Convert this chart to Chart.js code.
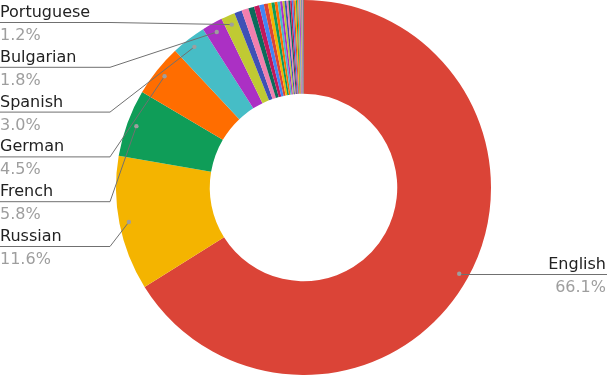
<!DOCTYPE html>
<html>
<head>
<meta charset="utf-8">
<script src="https://cdn.jsdelivr.net/npm/chart.js@4/dist/chart.umd.min.js"></script>
<style>
  html, body { margin: 0; padding: 0; background: #fff; }
  #wrap { width: 607px; height: 375px; }
</style>
</head>
<body>
<div id="wrap"><canvas id="langChart" width="607" height="375"></canvas></div>
<script>
// language share (percent)
var languages = ['English', 'Russian', 'French', 'German', 'Spanish', 'Bulgarian', 'Portuguese',
  'Italian', 'Polish', 'Japanese', 'Chinese', 'Dutch', 'Czech', 'Ukrainian', 'Turkish', 'Swedish',
  'Korean', 'Persian', 'Hungarian', 'Greek', 'Romanian', 'Finnish', 'Danish', 'Hebrew', 'Arabic',
  'Norwegian', 'Serbian', 'Slovak', 'Indonesian', 'Vietnamese', 'Catalan', 'Croatian', 'Lithuanian', 'Hindi'];
var shares = [66.1, 11.6, 5.8, 4.5, 3.0, 1.8, 1.2,
  0.65, 0.6, 0.5, 0.45, 0.4, 0.35, 0.3, 0.28, 0.25,
  0.22, 0.2, 0.18, 0.17, 0.16, 0.15, 0.14, 0.13, 0.12,
  0.11, 0.1, 0.1, 0.09, 0.09, 0.08, 0.08, 0.05, 0.05];
// slices that get a label on the left, top to bottom
var leftLabels = ['Portuguese', 'Bulgarian', 'Spanish', 'German', 'French', 'Russian'];
var rightLabels = ['English'];

var palette = ['#DB4437', '#F4B400', '#0F9D58', '#FF6D00', '#46BDC6', '#AB30C4',
  '#C0CA33', '#3F51B5', '#F27FAE', '#0B6B5B', '#C2185B', '#4285F4'];
var colors = shares.map(function (v, i) { return palette[i % palette.length]; });

var FONT = '16px "DejaVu Sans", Verdana, sans-serif';

function dotPos(arc, r) {
  var mid = (arc.startAngle + arc.endAngle) / 2;
  return { x: arc.x + Math.cos(mid) * r, y: arc.y + Math.sin(mid) * r };
}

var calloutPlugin = {
  id: 'callouts',
  afterDatasetsDraw: function (chart) {
    var ctx = chart.ctx;
    var arcs = chart.getDatasetMeta(0).data;
    var W = chart.width;
    ctx.save();
    ctx.font = FONT;
    ctx.textBaseline = 'alphabetic';

    // left side
    leftLabels.forEach(function (name, row) {
      var idx = languages.indexOf(name);
      var arc = arcs[idx];
      var p = dotPos(arc, arc.outerRadius - 9.5);
      var ly = 22.5 + row * 44.8;
      ctx.strokeStyle = '#707070';
      ctx.lineWidth = 1;
      ctx.beginPath();
      ctx.moveTo(0, ly);
      ctx.lineTo(110, ly);
      ctx.lineTo(p.x, p.y);
      ctx.stroke();
      ctx.fillStyle = '#9e9e9e';
      ctx.beginPath();
      ctx.arc(p.x, p.y, 2.2, 0, Math.PI * 2);
      ctx.fill();
      ctx.textAlign = 'left';
      ctx.fillStyle = '#222';
      ctx.fillText(name, 0, ly - 5.5);
      ctx.fillStyle = '#9e9e9e';
      ctx.fillText(shares[idx].toFixed(1) + '%', 0, ly + 17.5);
    });

    // right side
    rightLabels.forEach(function (name) {
      var idx = languages.indexOf(name);
      var arc = arcs[idx];
      var p = dotPos(arc, arc.outerRadius - 9.5);
      var ly = Math.round(p.y) + 0.5;
      ctx.strokeStyle = '#707070';
      ctx.lineWidth = 1;
      ctx.beginPath();
      ctx.moveTo(p.x, ly);
      ctx.lineTo(W, ly);
      ctx.stroke();
      ctx.fillStyle = '#9e9e9e';
      ctx.beginPath();
      ctx.arc(p.x, p.y, 2.2, 0, Math.PI * 2);
      ctx.fill();
      ctx.textAlign = 'right';
      ctx.fillStyle = '#222';
      ctx.fillText(name, W - 1, ly - 5.5);
      ctx.fillStyle = '#9e9e9e';
      ctx.fillText(shares[idx].toFixed(1) + '%', W - 1, ly + 17.5);
    });
    ctx.restore();
  }
};

var lctx = document.getElementById('langChart').getContext('2d');
var langChart = new Chart(lctx, {
  type: 'doughnut',
  data: {
    labels: languages,
    datasets: [{
      data: shares,
      backgroundColor: colors,
      borderWidth: 0
    }]
  },
  options: {
    responsive: false,
    animation: false,
    cutout: '50%',
    layout: { padding: 0 },
    plugins: {
      legend: { display: false },
      tooltip: { enabled: false }
    }
  },
  plugins: [calloutPlugin]
});
</script>
</body>
</html>
